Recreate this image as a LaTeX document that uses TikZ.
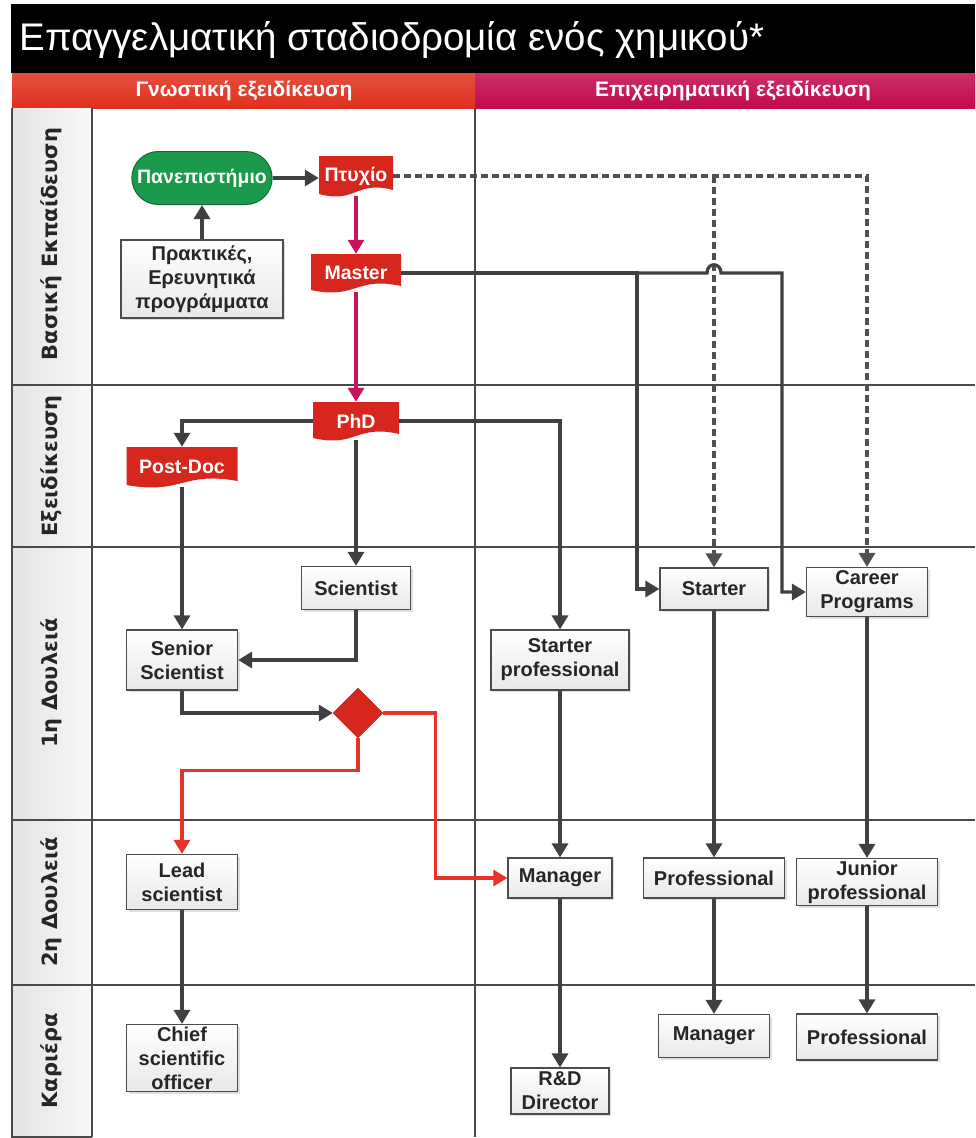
\documentclass[tikz,border=0pt]{standalone}
\usepackage{fontspec}
\setmainfont{Liberation Sans}
\newfontfamily\lanefont{DejaVu Sans}
\usetikzlibrary{arrows.meta,shadows,shapes.geometric,shapes.misc}

\definecolor{docred}{HTML}{D7261E}
\definecolor{unigreen}{HTML}{1B9A4B}
\definecolor{linegray}{HTML}{404040}
\definecolor{magline}{HTML}{C8145A}
\definecolor{hdrred}{HTML}{E0301E}
\definecolor{hdrmag}{HTML}{C20A4C}
\definecolor{redline}{HTML}{E8322A}
\definecolor{gridgray}{HTML}{4A4A4A}
\definecolor{dashgray}{HTML}{505050}

\begin{document}
\begin{tikzpicture}[
  x = 1pt, y = -1pt,
  box/.style = {draw = gray!60!black, line width = 1.2pt, top color = white,
                bottom color = gray!18, text = black!85, align = center,
                font = \fontsize{20}{24}\selectfont\bfseries, inner sep = 2pt,
                drop shadow = {opacity = 0.25, shadow xshift = 2pt, shadow yshift = -2pt}},
  docbox/.style = {text = white, inner sep = 2pt,
                   font = \fontsize{19.5}{22}\selectfont\bfseries,
                   path picture = {
                     \fill[docred] (path picture bounding box.north west)
                       -- (path picture bounding box.north east)
                       -- ([yshift = 6pt]path picture bounding box.south east)
                       .. controls ([yshift = 16pt]path picture bounding box.south)
                       and ([yshift = -8pt]path picture bounding box.south)
                       .. ([yshift = 2pt]path picture bounding box.south west)
                       -- cycle;}},
  lane/.style = {left color = gray!22, right color = gray!5, draw = none},
  lanetext/.style = {rotate = 90, text = black!85,
                     font = \lanefont\fontsize{21}{24}\selectfont\bfseries},
  grid/.style = {draw = gridgray, line width = 1.4pt},
  arr/.style = {draw = linegray, line width = 3.2pt,
                -{Triangle[length = 14pt, width = 16pt]}},
  magarr/.style = {arr, draw = magline, color = magline},
  redarr/.style = {arr, draw = redline, color = redline},
  dasharr/.style = {draw = dashgray, color = dashgray, line width = 3.2pt,
                    dash pattern = on 7pt off 4pt,
                    -{Triangle[length = 14pt, width = 16pt]}},
  ]
  \useasboundingbox (0,0) rectangle (975,1138);

  \fill[black] (11,4) rectangle (975,73);
  \node[anchor = west, text = white, font = \fontsize{38.5}{42}\selectfont] (title)
    at (16,40) {Επαγγελματική σταδιοδρομία ενός χημικού*};
  \shade[top color = hdrred!85!white, bottom color = hdrred] (12,73) rectangle (475,108);
  \shade[top color = hdrmag!85!white, bottom color = hdrmag] (475,73) rectangle (975,108);
  \node[text = white, font = \fontsize{21}{24}\selectfont\bfseries] (colA)
    at (244,91) {Γνωστική εξειδίκευση};
  \node[text = white, font = \fontsize{21}{24}\selectfont\bfseries] (colB)
    at (733,91) {Επιχειρηματική εξειδίκευση};

  \fill[lane] (12,108) rectangle (92,1137);
  \node[lanetext] (laneA) at (51,244) {Βασική Εκπαίδευση};
  \node[lanetext] (laneB) at (51,466) {Εξειδίκευση};
  \node[lanetext] (laneC) at (51,683) {1η Δουλειά};
  \node[lanetext] (laneD) at (51,902) {2η Δουλειά};
  \node[lanetext] (laneE) at (51,1061) {Καριέρα};

  \foreach \y in {385, 547, 820, 985}
    \draw[grid] (12,\y) -- (975,\y);
  \draw[grid] (12,108) -- (12,1137) -- (92,1137);
  \draw[grid] (92,108) -- (92,1137);
  \draw[grid] (475,108) -- (475,1137);

  \node[rounded rectangle, fill = unigreen, draw = unigreen!70!black, line width = 1pt,
        text = white, font = \fontsize{19.5}{24}\selectfont\bfseries,
        minimum width = 147pt, minimum height = 53pt] (uni) at (202,178) {Πανεπιστήμιο};
  \node[box, minimum width = 162pt, minimum height = 78pt] (prakt)
    at (202,279) {Πρακτικές,\\Ερευνητικά\\προγράμματα};
  \node[docbox, minimum width = 74pt, minimum height = 40pt] (ptyx) at (356,176) {Πτυχίο};
  \node[docbox, minimum width = 90pt, minimum height = 38pt] (master) at (356,273) {Master};
  \node[docbox, minimum width = 86pt, minimum height = 38pt] (phd) at (356,421) {PhD};
  \node[docbox, minimum width = 111pt, minimum height = 40pt] (postdoc) at (182,467) {Post-Doc};

  \node[box, minimum width = 109pt, minimum height = 43pt] (sci) at (356,588) {Scientist};
  \node[box, minimum width = 111pt, minimum height = 60pt] (senior) at (182,660) {Senior\\Scientist};
  \node[diamond, fill = docred, draw = docred!80!black, minimum width = 50pt,
        minimum height = 50pt, inner sep = 0pt] (dia) at (358,713) {};
  \node[box, minimum width = 138pt, minimum height = 60pt] (sprof) at (560,660) {Starter\\professional};
  \node[box, minimum width = 108pt, minimum height = 42pt] (starter) at (714,589) {Starter};
  \node[box, minimum width = 121pt, minimum height = 49pt] (career) at (867,592) {Career\\Programs};

  \node[box, minimum width = 111pt, minimum height = 55pt] (lead) at (182,882) {Lead\\scientist};
  \node[box, minimum width = 104pt, minimum height = 40pt] (mgr) at (560,878) {Manager};
  \node[box, minimum width = 141pt, minimum height = 40pt] (prof) at (714,878) {Professional};
  \node[box, minimum width = 141pt, minimum height = 47pt] (junior) at (867,882) {Junior\\professional};

  \node[box, minimum width = 111pt, minimum height = 67pt] (chief) at (182,1058) {Chief\\scientific\\officer};
  \node[box, minimum width = 98pt, minimum height = 46pt] (rnd) at (560,1091) {R\&D\\Director};
  \node[box, minimum width = 111pt, minimum height = 43pt] (mgrB) at (714,1036) {Manager};
  \node[box, minimum width = 141pt, minimum height = 46pt] (profB) at (867,1037) {Professional};

  \coordinate (mbend) at (637,273);
  \coordinate (cbend) at (782,273);
  \coordinate (jump) at (starter.north |- master.east);

  \draw[arr] (prakt.north) -- (prakt.north |- uni.south);
  \draw[arr] (uni.east) -- (uni.east -| ptyx.west);
  \draw[magarr] (ptyx.south) -- (master.north);
  \draw[magarr] (master.south) -- (phd.north);

  \draw[dasharr] (ptyx.east) -| (career.north);
  \draw[dasharr] (ptyx.east -| starter.north) -- (starter.north);

  \draw[arr] (master.east) -- (mbend) |- (starter.west);
  \draw[arr] (mbend) -- ([xshift = -7pt]jump)
    .. controls ([xshift = -7pt, yshift = 11pt]jump) and ([xshift = 7pt, yshift = 11pt]jump)
    .. ([xshift = 7pt]jump) -- (cbend) |- (career.west);

  \draw[arr] (phd.west) -| (postdoc.north);
  \draw[arr] (phd.east) -| (sprof.north);
  \draw[arr] (phd.south) -- (sci.north);
  \draw[arr] (postdoc.south) -- (senior.north);
  \draw[arr] (sci.south) |- (senior.east);
  \draw[arr] (senior.south) |- (dia.west);
  \draw[redarr] (dia.south) -- ++(0,32) -| (lead.north);
  \draw[redarr] (dia.east) -- ++(52,0) |- (mgr.west);

  \draw[arr] (sprof) -- (mgr);
  \draw[arr] (starter) -- (prof);
  \draw[arr] (career) -- (junior);
  \draw[arr] (lead) -- (chief);
  \draw[arr] (mgr) -- (rnd);
  \draw[arr] (prof) -- (mgrB);
  \draw[arr] (junior) -- (profB);
\end{tikzpicture}
\end{document}
